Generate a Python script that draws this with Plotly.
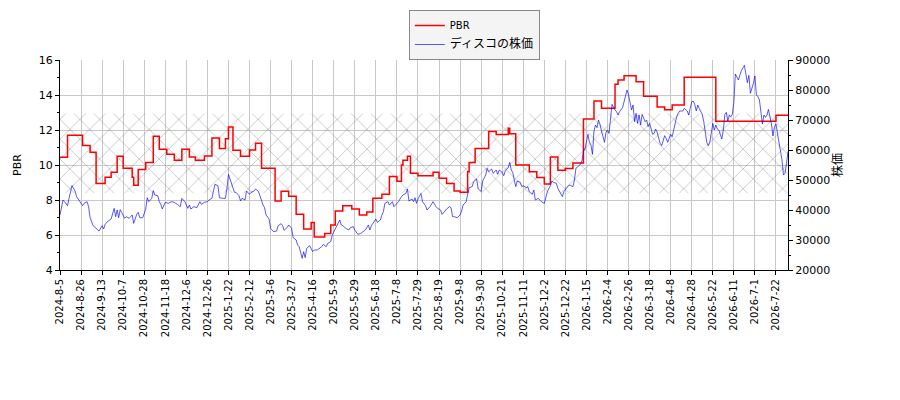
import plotly.graph_objects as go

# ---------------- data ----------------
tick_labels = ["2024-8-5", "2024-8-26", "2024-9-13", "2024-10-7", "2024-10-28", "2024-11-18",
               "2024-12-6", "2024-12-26", "2025-1-22", "2025-2-12", "2025-3-6", "2025-3-27",
               "2025-4-16", "2025-5-9", "2025-5-29", "2025-6-18", "2025-7-8", "2025-7-29",
               "2025-8-19", "2025-9-8", "2025-9-30", "2025-10-21", "2025-11-11", "2025-12-2",
               "2025-12-22", "2026-1-15", "2026-2-4", "2026-2-26", "2026-3-18", "2026-4-8",
               "2026-4-28", "2026-5-22", "2026-6-11", "2026-7-1", "2026-7-22"]
tick_step = 14          # trading days between labelled dates
n_days = 485            # trading days shown

# PBR (step series): trading-day index where value changes, and the value
pbr_day = [0, 5, 15, 20, 24, 30, 34, 38, 42, 48, 49, 52, 57, 62, 66, 71, 76, 81, 86, 90,
           96, 101, 106, 110, 112, 115, 120, 126, 130, 134, 143, 147, 152, 157, 162, 167,
           169, 176, 180, 183, 188, 194, 199, 204, 208, 214, 219, 224, 227, 228, 231, 233,
           238, 248, 252, 257, 262, 266, 271, 272, 276, 285, 290, 298, 299, 303, 312, 317,
           322, 326, 331, 336, 341, 348, 355, 360, 369, 371, 375, 383, 388, 397, 402, 407,
           415, 436, 476]
pbr_val = [10.45, 11.70, 11.12, 10.73, 8.95, 9.30, 9.58, 10.50, 9.81, 9.30, 8.84, 9.75,
           10.15, 11.64, 10.90, 10.61, 10.27, 10.90, 10.46, 10.27, 10.51, 11.54, 10.95,
           11.50, 12.17, 10.84, 10.50, 10.86, 11.24, 9.81, 7.94, 8.50, 8.21, 7.18, 6.34,
           6.72, 5.89, 6.08, 6.57, 7.37, 7.67, 7.49, 7.14, 7.31, 8.10, 8.33, 9.35, 9.07,
           10.00, 10.27, 10.50, 9.53, 9.39, 9.58, 9.24, 8.95, 8.51, 8.44, 9.62, 10.15,
           10.95, 11.92, 11.75, 12.10, 11.79, 10.00, 9.62, 9.28, 8.91, 10.46, 9.70, 9.80,
           10.11, 12.63, 13.66, 13.24, 14.61, 14.86, 15.10, 14.76, 13.93, 13.31, 13.16,
           13.43, 15.01, 12.50, 12.84]

# share price (sampled trading days)
price_day = [0, 2, 3, 5, 6, 8, 10, 11, 13, 15, 16, 18, 19, 20, 22, 25, 26, 28, 29, 30,
             32, 34, 35, 36, 37, 38, 39, 40, 41, 43, 44, 46, 48, 49, 51, 52, 53, 55, 57,
             58, 59, 61, 62, 63, 65, 66, 67, 68, 70, 72, 74, 76, 78, 80, 81, 83, 85, 86,
             87, 89, 91, 93, 94, 96, 98, 99, 101, 102, 103, 105, 106, 108, 110, 111, 112,
             113, 115, 116, 117, 119, 120, 121, 123, 124,
             126, 127, 129, 130, 132, 133, 135, 136, 137, 139, 140, 142, 144, 145, 147,
             148, 149, 151, 152, 154, 155, 157, 158, 159, 160, 161, 162, 163, 164, 165,
             166, 168, 169, 171, 173, 174, 175, 177, 178, 180, 181, 183, 184, 186, 187,
             188, 190, 192, 193, 195, 196, 198, 200, 201, 203, 205, 206, 207, 209, 210,
             211, 213, 214, 215, 216, 218, 219, 221, 222, 224, 225, 227, 228, 230, 231,
             232, 234, 235, 236, 237, 238, 240, 241, 243, 244, 246, 247, 248,
             250, 251, 253, 254, 256, 257, 259, 260, 261, 262, 264, 266, 267, 268, 270,
             271, 272, 274, 275, 277, 278, 279, 280, 281, 283, 284, 285, 287, 288, 290,
             291, 292, 294, 295, 296, 298, 299, 300, 301, 302, 303, 304, 306, 307, 308,
             310, 311, 312, 314, 315, 316, 318, 319, 320, 322, 323, 324, 326, 327, 328,
             330, 331, 332, 334, 335, 337, 338, 339, 341, 342, 343, 345, 346, 347, 348,
             349, 350, 351, 352, 353, 354, 355, 356, 357, 358, 359, 360, 362, 363, 364,
             365, 366, 367, 369, 370,
             371, 372, 374, 375, 377, 378, 379, 380, 381, 382, 383, 384, 385, 386, 387,
             388, 389, 390, 391, 392, 393, 394, 395, 396, 397, 398, 399, 400, 401, 402,
             403, 404, 405, 406, 407, 408, 409, 410, 411, 412, 414, 415, 417, 418, 419,
             420, 421, 422, 423, 424, 425, 426, 427, 428, 429, 430, 431, 432, 433, 434,
             435, 436, 437, 438, 440, 441, 442, 443, 444, 445, 446, 447, 448, 449, 451,
             452, 453, 455, 456, 457, 458, 459, 461, 462, 463, 464, 465, 466, 467, 468,
             469, 470, 471, 473, 474, 475, 476, 477, 478, 479, 480, 481, 482, 483, 484]
price_val = [38333, 43333, 42778, 41444, 43889, 48111, 46333, 44444, 43000, 41444, 42222,
             42778, 41111, 37444, 34778, 33667, 33000, 34778, 33667, 35222, 36333, 37000,
             38556, 40556, 37778, 40000, 37444, 40111, 39222, 37222, 37778, 37222, 38333,
             35556, 38556, 39222, 37444, 37444, 40333, 44111, 42778, 43889, 46444, 45000,
             44778, 42778, 41889, 40333, 42556, 42222, 42778, 42556, 41889, 41111, 43889,
             42778, 40556, 41667, 40333, 41111, 40778, 42778, 41889, 42556, 42778, 43333,
             43889, 46111, 48556, 48111, 44111, 43889, 43889, 47222, 51889, 50333, 47222,
             45889, 45889, 44778, 43000, 43889, 43333, 46333,
             45222, 45889, 46333, 47000, 46111, 44444, 41667, 40778, 38333, 37000, 33889,
             32778, 33000, 34778, 35444, 34778, 33222, 34111, 35000, 33889, 30778, 30000,
             28333, 27778, 26111, 23889, 26111, 24111, 27222, 27778, 28111, 26111, 26667,
             26667, 27222, 27778, 28556, 27778, 28889, 29444, 31667, 33889, 35000, 36667,
             35000, 34778, 33889, 33333, 34111, 34444, 33333, 31889, 32222, 32556, 33333,
             35000, 33333, 34778, 36333, 37000, 35889, 36667, 38333, 39444, 42222, 42778,
             41667, 42778, 41111, 42222, 42778, 44444, 45000, 45556, 47000, 43000, 43667,
             42778, 44111, 42222, 43667, 45556, 42778, 41444, 40000, 41111, 42222, 42778,
             41111, 40556, 40000, 38556, 39667, 40333, 41111, 40778, 37778, 37778, 37444,
             38333, 39667, 41667, 42778, 45000, 47444, 47778, 49444, 50333, 47000, 46667,
             46111, 49667, 51667, 53889, 52778, 53667, 52222, 53333, 51889, 53333, 52556,
             51444, 53000, 54111, 55889, 53333, 52556, 50000, 47778, 49667, 49222, 47778,
             48111, 47444, 47778, 46111, 45222, 46667, 43333, 43889, 43333, 42778, 42222,
             43889, 46111, 48111, 49667, 49222, 48889, 47222, 46111, 44444, 46111, 47444,
             48111, 48333, 47778, 50000, 53889, 54778, 55222, 56333, 59444, 60333, 62778,
             65222, 62556, 61667, 58556, 66333, 68333, 67444, 70000, 68556, 66333, 62556,
             65889, 66667, 65556, 70556, 75222, 73333, 72778,
             71667, 72778, 74111, 76111, 80000, 78333, 76111, 73333, 75000, 69444, 72222,
             68889, 71667, 68333, 71889, 70778, 69444, 70000, 67778, 68889, 66667, 65222,
             65556, 67000, 65889, 63889, 62222, 61444, 63333, 64778, 63889, 62556, 63889,
             65222, 64444, 66667, 69444, 71111, 72222, 73000, 73000, 73889, 73000, 71667,
             73889, 76111, 76333, 75222, 73000, 75000, 73778, 72556, 71889, 69444, 66667,
             62556, 61444, 62556, 65556, 68889, 66667, 68333, 67000, 66667, 63667, 66667,
             71889, 72556, 69667, 71667, 71111, 71889, 76000, 85333, 83333, 85000, 86444,
             88222, 85556, 82444, 84889, 78889, 82222, 84667, 78333, 77778, 76667, 73333,
             68667, 71667, 70889, 71667, 73556, 68667, 64667, 67778, 68667, 65556, 62222,
             60556, 56667, 51667, 52222, 55556, 59500]

band_low = 8.38    # PBR band shown hatched
band_high = 12.95

pbr_range = [4, 16]
price_range = [20000, 90000]

# ---------------- figure ----------------
FONT = "DejaVu Sans, Noto Sans CJK JP"
last_day = n_days - 1
tick_pos = [i * tick_step for i in range(len(tick_labels))]

fig = go.Figure()

fig.add_trace(go.Scatter(
    x=[0, last_day, last_day, 0, 0],
    y=[band_low, band_low, band_high, band_high, band_low],
    mode="lines", fill="toself", line=dict(width=0),
    fillcolor="rgba(0,0,0,0)",
    fillpattern=dict(shape="x", size=14, solidity=0.1, fgcolor="#707070",
                     bgcolor="rgba(255,255,255,0)"),
    showlegend=False, hoverinfo="skip"))

fig.add_trace(go.Scatter(
    x=pbr_day + [last_day], y=pbr_val + [pbr_val[-1]],
    mode="lines", line=dict(color="#ff0000", width=1.5, shape="hv"),
    name="PBR"))

fig.add_trace(go.Scatter(
    x=price_day, y=price_val, yaxis="y2",
    mode="lines", line=dict(color="rgba(0,0,255,0.65)", width=1),
    name='<span style="font-size:12px">ディスコの株価</span>'))

# the page places the figure 8 px from the window's top-left corner
fig.update_layout(
    width=892, height=392,
    margin=dict(l=52, r=112, t=52, b=130, autoexpand=False),
    paper_bgcolor="white", plot_bgcolor="white",
    font=dict(family=FONT, size=10, color="black"),
    showlegend=True,
    legend=dict(x=(405 - 60) / 720, y=(270 - 10) / 210, xanchor="left", yanchor="top",
                bgcolor="#f4f4f4", bordercolor="#888888", borderwidth=1,
                font=dict(family=FONT, size=10), tracegroupgap=0),
    xaxis=dict(range=[0, last_day], tickmode="array", tickvals=tick_pos, ticktext=tick_labels,
               tickangle=-90, ticks="outside", ticklen=4, tickcolor="black",
               showline=True, linecolor="black", linewidth=1, mirror=False,
               showgrid=True, gridcolor="#c8c8c8", gridwidth=1, zeroline=False,
               tickfont=dict(size=10), automargin=False),
    yaxis=dict(range=pbr_range, dtick=2, tick0=4, ticks="outside", ticklen=4, tickcolor="black",
               showline=True, linecolor="black", linewidth=1,
               showgrid=True, gridcolor="#c8c8c8", gridwidth=1, zeroline=False,
               minor=dict(dtick=1, ticks="outside", ticklen=2, tickcolor="black", showgrid=False),
               tickfont=dict(size=11), automargin=False,
               title=dict(text="PBR", font=dict(size=11), standoff=14)),
    yaxis2=dict(range=price_range, dtick=10000, tick0=20000, overlaying="y", side="right",
                ticks="outside", ticklen=4, tickcolor="black", tickformat="d",
                showline=True, linecolor="black", linewidth=1,
                showgrid=False, zeroline=False,
                minor=dict(dtick=5000, ticks="outside", ticklen=2, tickcolor="black", showgrid=False),
                tickfont=dict(size=11), automargin=False,
                title=dict(text="株価", font=dict(size=12), standoff=2)),
)

fig.write_html("out.html")
